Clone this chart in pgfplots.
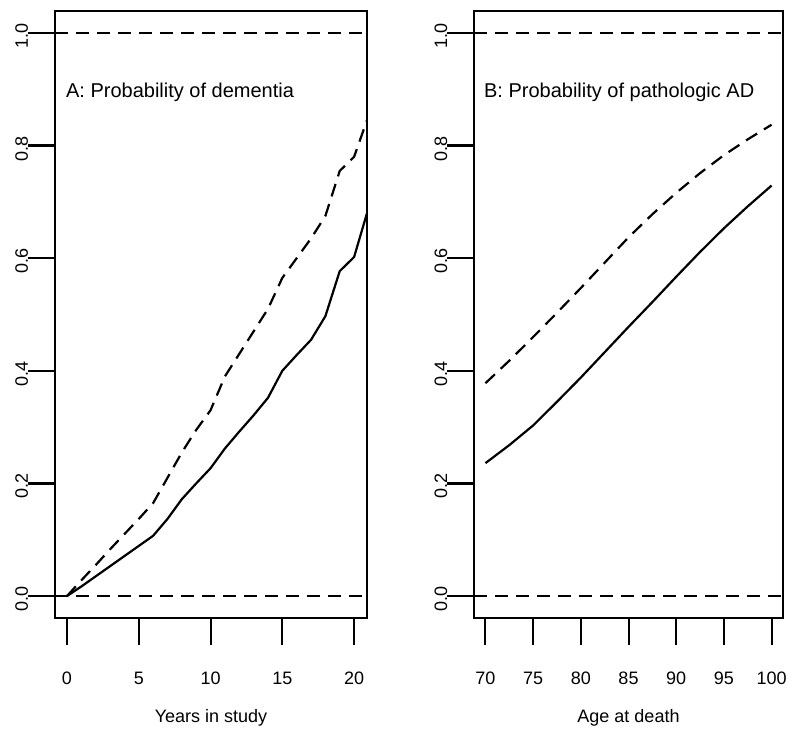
\documentclass[border=0pt]{standalone}
\usepackage{pgfplots}
\pgfplotsset{compat=1.18}
\usepackage{fontspec}
\setmainfont{Liberation Sans}
\begin{document}
\begin{tikzpicture}
\useasboundingbox (0pt,0pt) rectangle (798pt,740pt);
\pgfplotsset{
  rplot/.style={
    scale only axis,
    height=607pt,
    ymin=-0.039, ymax=1.039,
    axis line style={line width=2pt},
    major tick style={line width=2pt, black},
    tick align=outside,
    major tick length=27pt,
    ytick={0,0.2,0.4,0.6,0.8,1.0},
    yticklabel style={/pgf/number format/fixed,/pgf/number format/fixed zerofill,/pgf/number format/precision=1, rotate=90, anchor=base, inner sep=0pt, xshift=-3pt},
    xticklabel style={anchor=base, inner sep=0pt, yshift=-40pt},
    /pgf/number format/assume math mode=true,
    ticklabel style={font=\fontsize{18}{20}\selectfont},
    xtick pos=bottom, ytick pos=left,
    label style={font=\fontsize{18}{20}\selectfont},
    xlabel style={at={(axis description cs:0.5,0)}, anchor=base, yshift=-104pt, inner sep=0pt},
    clip=false,
    unbounded coords=jump,
  },
  curve/.style={line width=2.2pt, black, no marks},
  dcurve/.style={line width=2.2pt, black, no marks, dash pattern=on 13pt off 8pt},
  tickline/.style={line width=2.2pt, black, no marks},
}
\begin{axis}[rplot,
  at={(55pt,122pt)}, anchor=south west,
  width=312pt,
  xmin=-0.836, xmax=20.9,
  xtick={0,5,10,15,20},
  xlabel={Years in study}]
\addplot[dcurve] coordinates {(-0.836,0) (20.9,0)};
\addplot[dcurve] coordinates {(-0.836,1) (20.9,1)};
\addplot[curve] coordinates {
(0,0) (1,0.017) (2,0.035) (3,0.053) (4,0.071) (5,0.089) (6,0.107) (7,0.137)
(8,0.172) (9,0.200) (10,0.227) (11,0.262) (12,0.292) (13,0.321) (14,0.352)
(15,0.400) (16,0.428) (17,0.455) (18,0.497) (19,0.577) (20,0.602) (20.9,0.68)};
\addplot[dcurve] coordinates {
(0,0) (1,0.028) (2,0.055) (3,0.083) (4,0.11) (5,0.137) (6,0.165) (7,0.21)
(8,0.255) (9,0.295) (10,0.33) (11,0.39) (12,0.43) (13,0.47) (14,0.51)
(15,0.565) (16,0.60) (17,0.635) (18,0.675) (19,0.755) (20,0.78) (20.9,0.845)};
\addplot[tickline] coordinates {
(-2.72,0) (-0.836,0) (nan,nan)
(-2.72,0.2) (-0.836,0.2) (nan,nan)
(-2.72,0.4) (-0.836,0.4) (nan,nan)
(-2.72,0.6) (-0.836,0.6) (nan,nan)
(-2.72,0.8) (-0.836,0.8) (nan,nan)
(-2.72,1) (-0.836,1)};
\node[anchor=base west, inner sep=0pt, font=\fontsize{20}{22}\selectfont] at (rel axis cs:0.035,0.858) {A: Probability of dementia};
\end{axis}
\begin{axis}[rplot,
  at={(474pt,122pt)}, anchor=south west,
  width=309pt,
  xmin=68.8, xmax=101.2,
  xtick={70,75,80,85,90,95,100},
  xlabel={Age at death}]
\addplot[dcurve] coordinates {(68.8,0) (101.2,0)};
\addplot[dcurve] coordinates {(68.8,1) (101.2,1)};
\addplot[curve] coordinates {
(70,0.236) (72.5,0.268) (75,0.303) (77.5,0.345) (80,0.388) (82.5,0.433)
(85,0.478) (87.5,0.522) (90,0.567) (92.5,0.611) (95,0.653) (97.5,0.692) (100,0.729)};
\addplot[dcurve] coordinates {
(70,0.378) (72.5,0.418) (75,0.46) (77.5,0.503) (80,0.547) (82.5,0.592)
(85,0.637) (87.5,0.678) (90,0.716) (92.5,0.751) (95,0.783) (97.5,0.811) (100,0.837)};
\addplot[tickline] coordinates {
(65.97,0) (68.8,0) (nan,nan)
(65.97,0.2) (68.8,0.2) (nan,nan)
(65.97,0.4) (68.8,0.4) (nan,nan)
(65.97,0.6) (68.8,0.6) (nan,nan)
(65.97,0.8) (68.8,0.8) (nan,nan)
(65.97,1) (68.8,1)};
\node[anchor=base west, inner sep=0pt, font=\fontsize{20}{22}\selectfont] at (rel axis cs:0.032,0.858) {B: Probability of pathologic AD};
\end{axis}
\end{tikzpicture}
\end{document}
